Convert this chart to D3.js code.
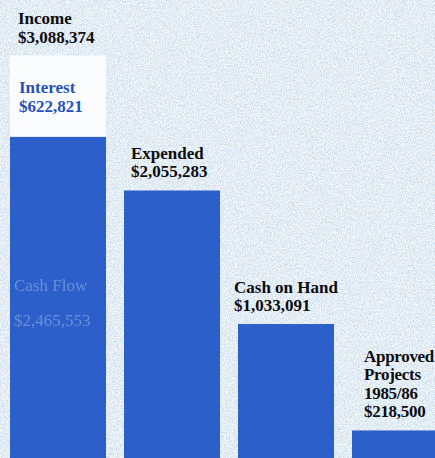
<!DOCTYPE html>
<html>
<head>
<meta charset="utf-8">
<script src="https://cdn.jsdelivr.net/npm/d3@7/dist/d3.min.js"></script>
<style>
  html, body { margin: 0; padding: 0; background: #c9dcec; overflow: hidden; }
  svg { display: block; }
</style>
</head>
<body>
<svg id="chart" width="435" height="458"></svg>
<script>
// ---- data ----
const categories = ["Income", "Expended", "Cash on Hand", "Approved Projects"];
const cashFlow = [2465553, 2055283, 1033091, 218500];   // blue segment
const interest = [622821, 0, 0, 0];                      // white segment
const totals = [3088374, 2055283, 1033091, 218500];
const labelLines = [
  ["Income", "$3,088,374"],
  ["Expended", "$2,055,283"],
  ["Cash on Hand", "$1,033,091"],
  ["Approved", "Projects", "1985/86", "$218,500"]
];
const interestLines = ["Interest", "$622,821"];
const cashFlowLines = ["Cash Flow", "$2,465,553"];

// ---- layout ----
const W = 435, H = 458;
const svg = d3.select("#chart");
const labelDx = [8, 7, -4, 12];

const x = d3.scaleBand().domain(categories).range([10, 448]).paddingInner(0.158).paddingOuter(0);
const y = d3.scaleLinear().domain([0, 3100000]).range([459, 54]);

// background with speckle texture
const defs = svg.append("defs");
const f = defs.append("filter").attr("id", "speckle").attr("x", 0).attr("y", 0).attr("width", "100%").attr("height", "100%");
f.append("feTurbulence").attr("type", "fractalNoise").attr("baseFrequency", 0.75).attr("numOctaves", 2).attr("seed", 3).attr("result", "n");
f.append("feColorMatrix").attr("in", "n").attr("type", "matrix")
  .attr("values", "0 0 0 0 1  0 0 0 0 1  0 0 0 0 1  0 0 0 -2.4 1.85");
svg.append("rect").attr("width", W).attr("height", H).attr("fill", "#c2d7e9");
svg.append("rect").attr("width", W).attr("height", H).attr("filter", "url(#speckle)").attr("opacity", 0.85);

const stack = categories.map((c, i) => ({ c, cf: cashFlow[i], it: interest[i], tot: totals[i], i }));

// interest (white) segments
svg.selectAll("rect.interest").data(stack.filter(d => d.it > 0)).join("rect")
  .attr("class", "interest")
  .attr("x", d => x(d.c)).attr("width", x.bandwidth())
  .attr("y", d => y(d.cf + d.it)).attr("height", d => y(d.cf) - y(d.cf + d.it))
  .attr("fill", "#fbfcfd");

// cash flow (blue) bars
svg.selectAll("rect.cf").data(stack).join("rect")
  .attr("class", "cf")
  .attr("x", d => x(d.c)).attr("width", x.bandwidth())
  .attr("y", d => y(d.cf)).attr("height", d => y(0) - y(d.cf))
  .attr("fill", "#2c5fc9");

// labels above bars
const lh = 18.5;
const fs = 17;
const font = "'Liberation Serif', 'Times New Roman', serif";
stack.forEach(d => {
  const lines = labelLines[d.i];
  const base = y(d.tot) - 13;
  const t = svg.append("text")
    .attr("font-family", font).attr("font-weight", "bold").attr("font-size", fs)
    .attr("letter-spacing", d.i === 3 ? -0.3 : 0).attr("fill", "#0d0d10");
  lines.forEach((l, k) => {
    t.append("tspan").attr("x", x(d.c) + labelDx[d.i])
      .attr("y", base - (lines.length - 1 - k) * lh).text(l);
  });
});

// interest label inside white segment
const inc = stack[0];
const itT = svg.append("text").attr("font-family", font).attr("font-weight", "bold")
  .attr("font-size", fs).attr("fill", "#2550be");
interestLines.forEach((l, k) => {
  itT.append("tspan").attr("x", x(inc.c) + 9)
    .attr("y", y(inc.cf + inc.it) + 37 + k * 19).text(l);
});

// cash flow label inside blue bar (faded)
const cfT = svg.append("text").attr("font-family", font)
  .attr("font-size", 17).attr("fill", "#7b9add").attr("opacity", 0.8);
cashFlowLines.forEach((l, k) => {
  cfT.append("tspan").attr("x", x(inc.c) + 4)
    .attr("y", y(inc.cf) + 154 + k * 35).text(l);
});
</script>
</body>
</html>
